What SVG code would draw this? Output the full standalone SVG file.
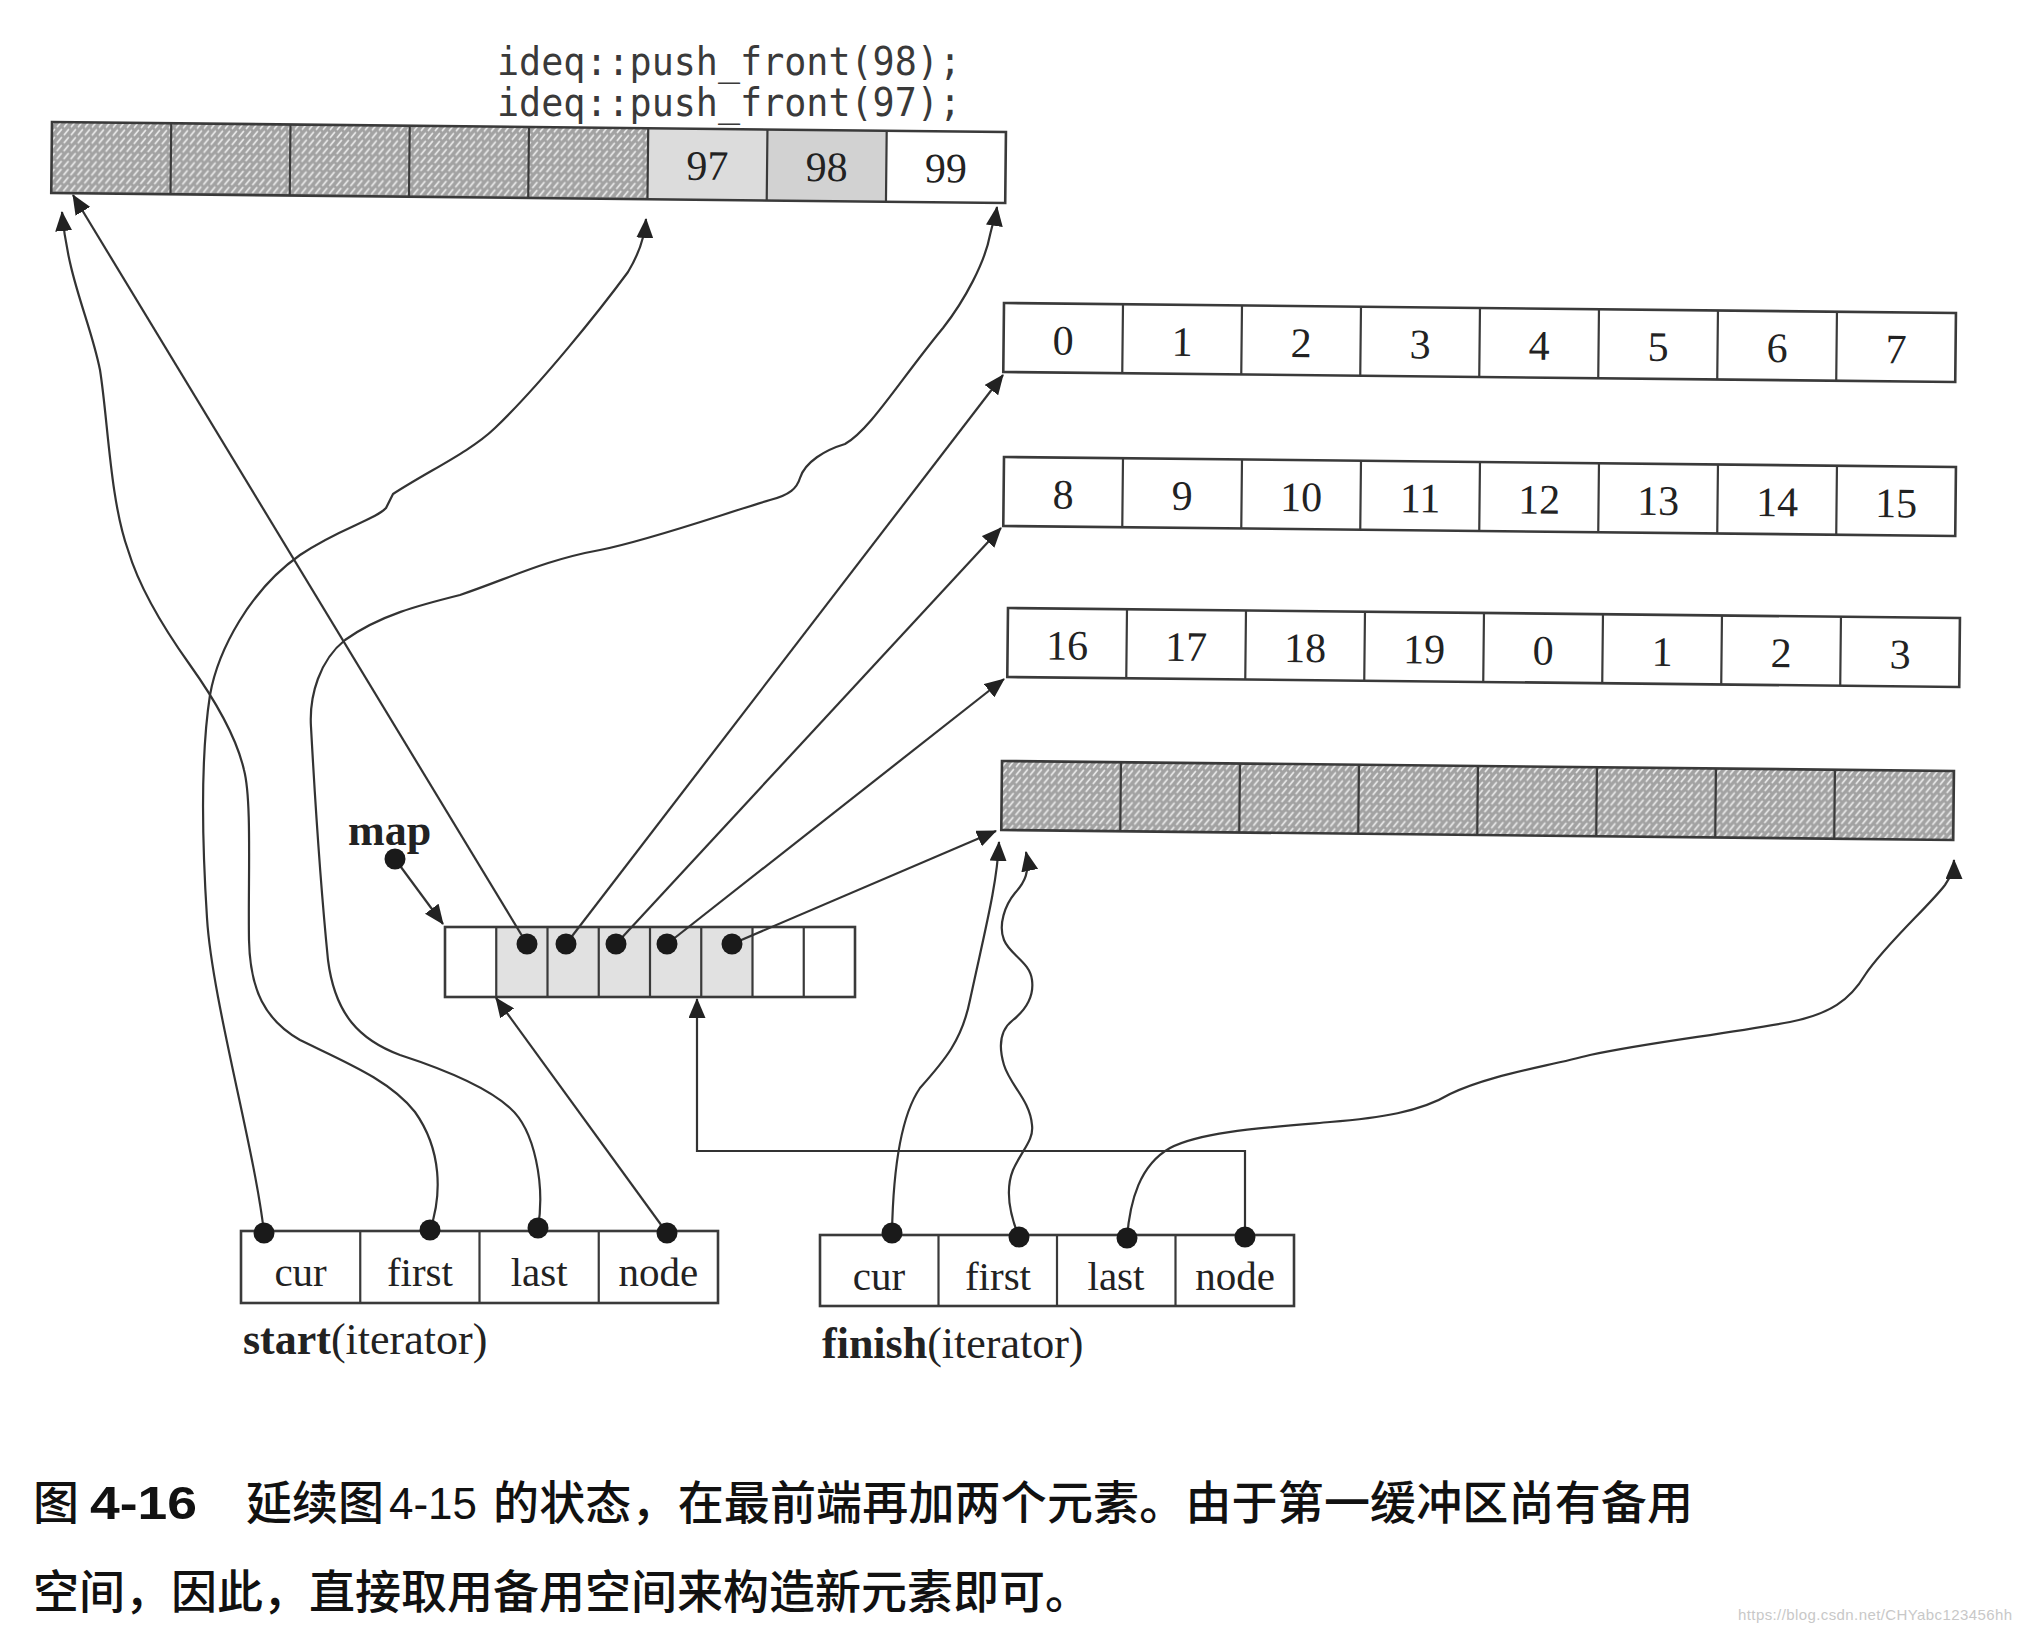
<svg xmlns="http://www.w3.org/2000/svg" width="2022" height="1632" viewBox="0 0 2022 1632">
<defs>
<pattern id="hatch" width="7" height="8" patternUnits="userSpaceOnUse">
<rect width="7" height="8" fill="#a2a2a2"/>
<path d="M1.5,6.5 L5.5,1.5" stroke="#ececec" stroke-width="1.7" stroke-linecap="round"/>
</pattern>
<marker id="ah" viewBox="0 0 20 17" refX="19" refY="8.5" markerWidth="20" markerHeight="17" markerUnits="userSpaceOnUse" orient="auto">
<path d="M0,0 L20,8.5 L0,17 z" fill="#222"/>
</marker>
</defs>
<style>
.box{fill:none;stroke:#3a3a3a;stroke-width:2.6}
.dv{stroke:#3a3a3a;stroke-width:2.2}
.num{font-family:"Liberation Serif",serif;font-size:42px;fill:#222;text-anchor:middle}
.lbl{font-family:"Liberation Serif",serif;font-size:41px;fill:#222;text-anchor:middle}
.cap{font-family:"Liberation Serif",serif;font-size:44px;fill:#222}
.mono{font-family:"DejaVu Sans Mono","Liberation Mono",monospace;font-size:39px;fill:#3a3a3a}
.con{fill:none;stroke:#333;stroke-width:2.2;marker-end:url(#ah)}
.dot{fill:#1a1a1a}
.zh{font-family:"Noto Sans CJK SC",sans-serif;font-size:46px;font-weight:500;fill:#111}
</style>
<rect width="2022" height="1632" fill="#fff"/>

<g id="push-label">
<text class="mono" x="497" y="75" textLength="464" lengthAdjust="spacingAndGlyphs">ideq::push_front(98);</text>
<text class="mono" x="497" y="116" textLength="464" lengthAdjust="spacingAndGlyphs">ideq::push_front(97);</text>
</g>

<g id="top-buffer" transform="rotate(0.6 52 122)">
<rect x="52" y="122" width="596.25" height="71" fill="url(#hatch)"/>
<rect x="648.25" y="122" width="119.25" height="71" fill="#dcdcdc"/>
<rect x="767.5" y="122" width="119.25" height="71" fill="#d2d2d2"/>
<rect x="886.75" y="122" width="119.25" height="71" fill="#fff"/>
<rect class="box" x="52" y="122" width="954" height="71"/>
<path class="dv" d="M171.25,122V193M290.5,122V193M409.75,122V193M529,122V193M648.25,122V193M767.5,122V193M886.75,122V193"/>
<text class="num" x="707.9" y="173">97</text>
<text class="num" x="827.1" y="173">98</text>
<text class="num" x="946.4" y="173">99</text>
</g>

<g id="buffer-1" transform="rotate(0.6 1004 303)">
<rect x="1004" y="303" width="952" height="69" fill="#fff"/>
<rect class="box" x="1004" y="303" width="952" height="69"/>
<path class="dv" d="M1123,303V372M1242,303V372M1361,303V372M1480,303V372M1599,303V372M1718,303V372M1837,303V372"/>
<text class="num" x="1063.5" y="354">0</text>
<text class="num" x="1182.5" y="354">1</text>
<text class="num" x="1301.5" y="354">2</text>
<text class="num" x="1420.5" y="354">3</text>
<text class="num" x="1539.5" y="354">4</text>
<text class="num" x="1658.5" y="354">5</text>
<text class="num" x="1777.5" y="354">6</text>
<text class="num" x="1896.5" y="354">7</text>
</g>

<g id="buffer-2" transform="rotate(0.6 1004 457)">
<rect x="1004" y="457" width="952" height="69" fill="#fff"/>
<rect class="box" x="1004" y="457" width="952" height="69"/>
<path class="dv" d="M1123,457V526M1242,457V526M1361,457V526M1480,457V526M1599,457V526M1718,457V526M1837,457V526"/>
<text class="num" x="1063.5" y="508">8</text>
<text class="num" x="1182.5" y="508">9</text>
<text class="num" x="1301.5" y="508">10</text>
<text class="num" x="1420.5" y="508">11</text>
<text class="num" x="1539.5" y="508">12</text>
<text class="num" x="1658.5" y="508">13</text>
<text class="num" x="1777.5" y="508">14</text>
<text class="num" x="1896.5" y="508">15</text>
</g>

<g id="buffer-3" transform="rotate(0.6 1008 608)">
<rect x="1008" y="608" width="952" height="69" fill="#fff"/>
<rect class="box" x="1008" y="608" width="952" height="69"/>
<path class="dv" d="M1127,608V677M1246,608V677M1365,608V677M1484,608V677M1603,608V677M1722,608V677M1841,608V677"/>
<text class="num" x="1067.5" y="659">16</text>
<text class="num" x="1186.5" y="659">17</text>
<text class="num" x="1305.5" y="659">18</text>
<text class="num" x="1424.5" y="659">19</text>
<text class="num" x="1543.5" y="659">0</text>
<text class="num" x="1662.5" y="659">1</text>
<text class="num" x="1781.5" y="659">2</text>
<text class="num" x="1900.5" y="659">3</text>
</g>

<g id="buffer-4" transform="rotate(0.6 1002 761)">
<rect x="1002" y="761" width="952" height="69" fill="url(#hatch)"/>
<rect class="box" x="1002" y="761" width="952" height="69"/>
<path class="dv" d="M1121,761V830M1240,761V830M1359,761V830M1478,761V830M1597,761V830M1716,761V830M1835,761V830"/>
</g>

<g id="map">
<rect x="445" y="927" width="410" height="70" fill="#fff"/>
<rect x="496.25" y="927" width="256.25" height="70" fill="#e1e1e1"/>
<rect class="box" x="445" y="927" width="410" height="70"/>
<path class="dv" d="M496.25,927V997M547.5,927V997M598.75,927V997M650,927V997M701.25,927V997M752.5,927V997M803.75,927V997"/>
</g>

<g id="map-pointer">
<text class="cap" x="348" y="845" font-weight="bold">map</text>
</g>

<g id="start-iterator">
<rect x="241" y="1231" width="477" height="72" fill="#fff"/>
<rect class="box" x="241" y="1231" width="477" height="72"/>
<path class="dv" d="M360.25,1231V1303M479.5,1231V1303M598.75,1231V1303"/>
<text class="lbl" x="300.6" y="1286">cur</text>
<text class="lbl" x="419.9" y="1286">first</text>
<text class="lbl" x="539.1" y="1286">last</text>
<text class="lbl" x="658.4" y="1286">node</text>
<text class="cap" x="243" y="1354"><tspan font-weight="bold">start</tspan>(iterator)</text>
</g>

<g id="finish-iterator">
<rect x="820" y="1235" width="474" height="71" fill="#fff"/>
<rect class="box" x="820" y="1235" width="474" height="71"/>
<path class="dv" d="M938.5,1235V1306M1057,1235V1306M1175.5,1235V1306"/>
<text class="lbl" x="879" y="1290">cur</text>
<text class="lbl" x="998" y="1290">first</text>
<text class="lbl" x="1116" y="1290">last</text>
<text class="lbl" x="1235" y="1290">node</text>
<text class="cap" x="822" y="1358"><tspan font-weight="bold">finish</tspan>(iterator)</text>
</g>

<g id="connectors">
<path class="con" d="M527,944 L73,195"/>
<path class="con" d="M566,944 L1003,375"/>
<path class="con" d="M616,944 L1001,528"/>
<path class="con" d="M667,944 L1004,679"/>
<path class="con" d="M732,944 L996,831"/>
<path class="con" d="M395,859 L443,924"/>
<path class="con" d="M667,1233 L496,998"/>
<path class="con" d="M264,1233 C255,1150 212,1000 207,918 C202,840 200,760 210,695 C218,650 250,590 300,555 C340,528 375,520 386,508 L393,494 C430,470 470,452 495,428 C540,385 600,310 628,272 C640,252 645,235 646,219"/>
<path class="con" d="M430,1230 C442,1195 442,1150 415,1112 C390,1080 345,1062 300,1040 C265,1020 250,990 249,940 C248,880 252,800 244,770 C236,735 215,700 190,665 C165,630 140,590 128,550 C110,500 108,420 100,370 C90,320 68,280 62,212"/>
<path class="con" d="M538,1228 C545,1185 535,1130 510,1108 C485,1085 440,1068 400,1055 C360,1040 335,1015 328,960 C322,900 315,800 311,727 C309,695 320,660 345,640 C380,615 420,605 460,595 C510,578 545,560 600,550 C650,540 720,515 770,500 C790,495 797,488 800,478 C805,462 825,450 845,444 C870,430 900,380 943,328 C965,300 985,262 990,235 C993,222 996,214 997,207"/>
<path class="con" d="M1245,1237 V1151 H697 V999"/>
<path class="con" d="M892,1233 C893,1180 898,1120 920,1088 C945,1060 962,1040 970,1000 C985,930 997,885 999,842"/>
<path class="con" d="M1019,1237 C1010,1215 1005,1190 1013,1170 C1022,1150 1034,1140 1032,1125 C1030,1100 1010,1085 1004,1065 C998,1045 1000,1030 1013,1020 C1028,1008 1034,995 1032,980 C1030,962 1010,955 1004,940 C998,925 1005,905 1015,893 C1025,882 1030,872 1026,852"/>
<path class="con" d="M1127,1238 C1130,1200 1140,1165 1170,1148 C1200,1132 1260,1128 1330,1122 C1380,1118 1420,1112 1450,1094 C1490,1075 1540,1068 1590,1055 C1650,1042 1720,1035 1790,1022 C1830,1014 1850,1000 1865,975 C1885,945 1930,905 1945,885 C1952,875 1954,868 1954,860"/>
</g>

<g id="pointer-dots">
<circle class="dot" cx="527" cy="944" r="10.5"/>
<circle class="dot" cx="566" cy="944" r="10.5"/>
<circle class="dot" cx="616" cy="944" r="10.5"/>
<circle class="dot" cx="667" cy="944" r="10.5"/>
<circle class="dot" cx="732" cy="944" r="10.5"/>
<circle class="dot" cx="395" cy="859" r="10.5"/>
<circle class="dot" cx="264" cy="1233" r="10.5"/>
<circle class="dot" cx="430" cy="1230" r="10.5"/>
<circle class="dot" cx="538" cy="1228" r="10.5"/>
<circle class="dot" cx="667" cy="1233" r="10.5"/>
<circle class="dot" cx="892" cy="1233" r="10.5"/>
<circle class="dot" cx="1019" cy="1237" r="10.5"/>
<circle class="dot" cx="1127" cy="1238" r="10.5"/>
<circle class="dot" cx="1245" cy="1237" r="10.5"/>
</g>

<g id="caption">
<text class="zh" x="33" y="1519">图</text>
<text x="90" y="1519" font-family="Liberation Sans,sans-serif" font-size="46" font-weight="bold" fill="#111" textLength="107" lengthAdjust="spacingAndGlyphs">4-16</text>
<text class="zh" x="246" y="1519">延续图</text>
<text x="389" y="1519" font-family="Liberation Sans,sans-serif" font-size="44" fill="#111" textLength="88" lengthAdjust="spacingAndGlyphs">4-15</text>
<text class="zh" x="493" y="1519" textLength="1200" lengthAdjust="spacing">的状态，在最前端再加两个元素。由于第一缓冲区尚有备用</text>
<text class="zh" x="33" y="1608">空间，因此，直接取用备用空间来构造新元素即可。</text>
</g>

<text x="1738" y="1620" font-family="Liberation Sans,sans-serif" font-size="15" fill="#c8c8c8" textLength="274">https://blog.csdn.net/CHYabc123456hh</text>
</svg>
